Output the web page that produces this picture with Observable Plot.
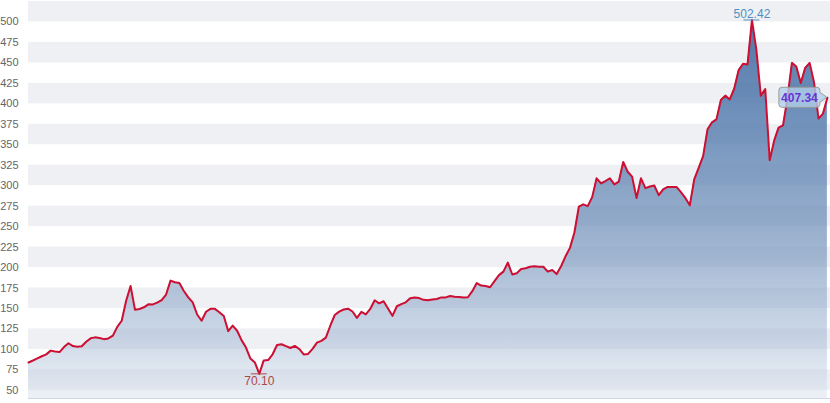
<!DOCTYPE html>
<html><head><meta charset="utf-8">
<script src="https://cdn.jsdelivr.net/npm/d3@7"></script>
<script src="https://cdn.jsdelivr.net/npm/@observablehq/plot@0.6"></script>
<style>
html,body{margin:0;padding:0;background:#fff;}
#chart{width:830px;height:403px;overflow:hidden;}
</style></head><body><div id="chart"></div>
<script>
const values = [
  84, 86.4, 89, 91.6, 93.9, 98.5, 97.5, 96.7, 102.8, 107.5,
  104, 103.2, 103.8, 109.4, 113.5, 114.7, 113.9, 112.5, 113.4, 116.7,
  127.5, 135, 159.5, 177.5, 148.3, 149.4, 151.4, 155, 154.9, 157.2,
  160.3, 167, 184, 182, 181.1, 171.3, 163.5, 157.4, 142.6, 135,
  146, 149.5, 149.5, 145.4, 140.7, 122.3, 129, 122.8, 111.3, 102.3,
  88.8, 84, 70.1, 86.5, 87, 94, 105.4, 106.3, 104, 101.7,
  104.2, 100.5, 93.9, 94.4, 100.7, 108.2, 110.4, 114.4, 128.9, 142,
  146.1, 148.7, 149.7, 146.3, 138.5, 145.8, 142.8, 149.4, 160, 156.3,
  158.8, 150, 141, 152.7, 155.3, 157.5, 162.4, 163.5, 162.7, 160.5,
  159.9, 161, 161.6, 163.5, 163.5, 165.3, 164.3, 164, 163.5, 163.7,
  171.1, 181, 178, 177.5, 175.9, 183.4, 190.7, 195, 206, 191.5,
  193.1, 198.2, 199.2, 201, 201.6, 201, 201, 195, 197, 192,
  201.6, 213.7, 224, 242.8, 274.3, 277.2, 275, 286, 309, 302.7,
  305.7, 309, 301.5, 305, 329, 317, 311, 285, 309, 297,
  299, 300.2, 288.5, 295.5, 298.5, 298.5, 298.5, 292, 285, 276,
  307.8, 321.8, 336, 369, 377.4, 381, 404.6, 410, 405.4, 418.4,
  441.2, 449, 448, 502.42, 466, 410, 418, 331, 355, 371,
  373.6, 407, 450, 445.5, 425.5, 444, 450, 426, 382, 388,
  407.34
];
const yTicks = [50, 75, 100, 125, 150, 175, 200, 225, 250, 275, 300, 325, 350, 375, 400, 425, 450, 475, 500];
const bandStarts = [50, 100, 150, 200, 250, 300, 350, 400, 450, 500];
const bandWidth = 25;
const yMin = 40, yMax = 525;

const data = values.map((v, i) => ({i, v}));
const bands = bandStarts.map(b => ({y1: b, y2: b + bandWidth}));
const iMax = d3.maxIndex(values), iMin = d3.minIndex(values), iLast = values.length - 1;
const extremes = [
  {i: iMax, v: values[iMax], kind: "max"},
  {i: iMin, v: values[iMin], kind: "min"}
];
const lastPt = [{i: iLast, v: values[iLast]}];

function defsMark(index, scales, vals, dims) {
  const y0 = scales.y(yMax), y1 = scales.y(yMin);
  const defs = d3.create("svg:defs");
  const g = defs.append("linearGradient").attr("id", "areaGrad")
    .attr("gradientUnits", "userSpaceOnUse")
    .attr("x1", 0).attr("x2", 0).attr("y1", y0).attr("y2", y1);
  [[0, "rgb(62,103,156)", 0.92], [0.3, "rgb(82,122,173)", 0.82], [0.6, "rgb(110,142,184)", 0.68],
   [0.85, "rgb(160,182,211)", 0.52], [1, "rgb(215,224,236)", 0.45]].forEach(([o, c, a]) =>
    g.append("stop").attr("offset", o).attr("stop-color", c).attr("stop-opacity", a));
  return defs.node();
}

function calloutMark(index, scales) {
  const px = scales.x(lastPt[0].i), py = scales.y(lastPt[0].v);
  const g = d3.create("svg:g");
  const l = px - 48, r = px - 7, t = py - 10, b = py + 10, rr = 3;
  const path = `M${l + rr},${t} H${r - rr} Q${r},${t} ${r},${t + rr} V${py - 5} L${px},${py} L${r},${py + 5} V${b - rr} Q${r},${b} ${r - rr},${b} H${l + rr} Q${l},${b} ${l},${b - rr} V${t + rr} Q${l},${t} ${l + rr},${t} Z`;
  g.append("path").attr("d", path).attr("fill", "rgb(178,208,234)").attr("fill-opacity", 0.8)
    .attr("stroke", "#9a9a9a").attr("stroke-width", 1);
  g.append("text").attr("x", (l + r) / 2).attr("y", py).attr("dy", "0.35em")
    .attr("text-anchor", "middle").attr("fill", "#6a32d8").attr("font-size", 12).attr("font-weight", "bold")
    .attr("font-family", "'Liberation Sans', Arial, sans-serif")
    .text(lastPt[0].v.toFixed(2));
  return g.node();
}

const plot = Plot.plot({
  width: 830,
  height: 403,
  marginLeft: 28,
  marginRight: 0,
  marginTop: 1,
  marginBottom: 5,
  style: {fontFamily: "'Liberation Sans', Arial, sans-serif", fontSize: "11px", background: "#fff", color: "#666", overflow: "visible"},
  x: {domain: [0, 180.7], axis: null},
  y: {domain: [yMin, yMax], ticks: yTicks, tickSize: 0, tickPadding: 10, tickFormat: d => String(d), label: null},
  marks: [
    defsMark,
    Plot.rect(bands, {y1: "y1", y2: "y2", fill: "#eff0f3"}),
    Plot.area(data, {x1: "i", y1: () => yMin, y2: "v", fill: "url(#areaGrad)", curve: "linear"}),
    Plot.ruleY([yMin], {stroke: "#ccd6eb", strokeWidth: 1}),
    Plot.line(data, {x: "i", y: "v", stroke: "#cc0f33", strokeWidth: 2, strokeLinejoin: "round"}),
    Plot.ruleY(extremes, {y: "v", x1: d => d.i - 1.8, x2: d => d.i + 1.8,
      stroke: d => d.kind === "max" ? "#4d8fc4" : "#a84848", strokeWidth: 1}),
    Plot.text(extremes.filter(d => d.kind === "max"), {x: "i", y: "v", text: d => d.v.toFixed(2),
      lineAnchor: "bottom", dy: -2, fill: "#4d8fc4", fontSize: 12}),
    Plot.text(extremes.filter(d => d.kind === "min"), {x: "i", y: "v", text: d => d.v.toFixed(2),
      lineAnchor: "top", dy: 3, fill: "#a84848", fontSize: 12}),
    calloutMark
  ]
});
document.getElementById("chart").appendChild(plot);
</script></body></html>
